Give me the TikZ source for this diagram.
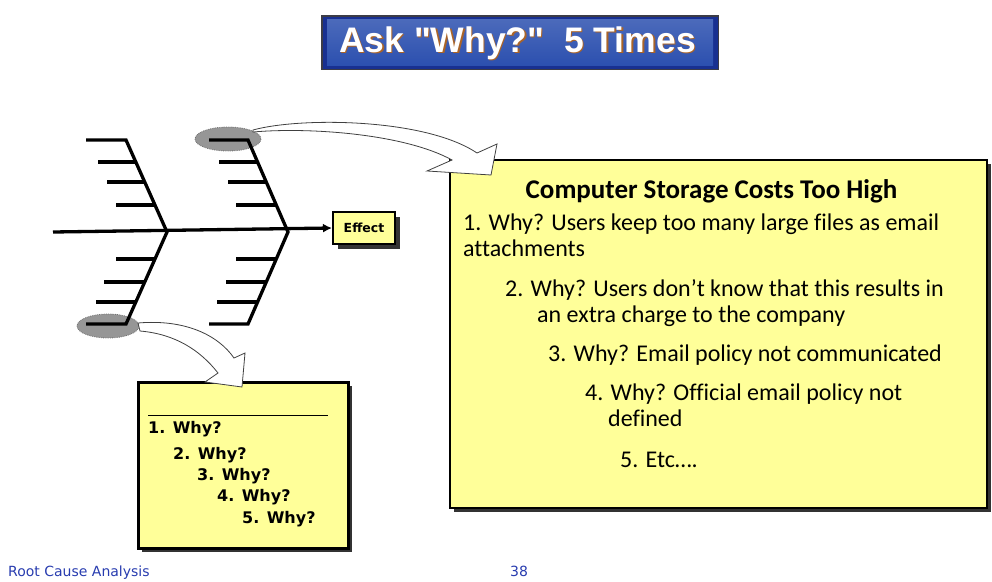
\documentclass[tikz,border=0pt]{standalone}
\usepackage{fontspec}
\setmainfont{Carlito}[Ligatures=NoCommon]
\newfontfamily\tahfont{DejaVu Sans}
\newfontfamily\arifont{Liberation Sans}
\usetikzlibrary{arrows.meta}
\definecolor{noteyellow}{RGB}{255,255,153}
\definecolor{titleframe}{RGB}{24,48,145}
\definecolor{titleinner}{RGB}{44,80,175}
\definecolor{titleedge}{RGB}{60,60,70}
\definecolor{titleshadow}{RGB}{170,100,40}
\definecolor{footblue}{RGB}{40,60,175}
\definecolor{ovalgray}{RGB}{150,150,150}
\begin{document}
\begin{tikzpicture}[x=1pt,y=-1pt,
  bone/.style={line width=3.3pt,black,line join=miter},
  rib/.style={line width=3.3pt,black},
  oval/.style={fill=ovalgray,draw=black!55,densely dotted,line width=0.8pt},
  notebox/.style={fill=noteyellow,draw=black,line width=2.5pt},
  boxshadow/.style={fill=black!80},
  blockarrow/.style={fill=white,draw=black!75,line width=0.8pt,line join=miter},
  bigtext/.style={anchor=base west,inner sep=0pt,font=\fontsize{24}{24}\selectfont},
  smalltext/.style={anchor=base west,inner sep=0pt,font=\tahfont\bfseries\fontsize{16}{16}\selectfont},
  foot/.style={anchor=base west,inner sep=0pt,text=footblue,font=\tahfont\fontsize{14}{14}\selectfont}]
\useasboundingbox (0,0) rectangle (992,581);

% title
\fill[titleedge] (321,15) rectangle (719,70);
\fill[titleframe] (322.5,16.5) rectangle (717.5,68.5);
\shade[top color=titleinner!85!white,bottom color=titleinner] (327,19) rectangle (713,65);
\node[font=\arifont\bfseries\fontsize{35.5}{35.5}\selectfont,text=titleshadow] at (518.8,44.8) {Ask "Why?"\ \ 5 Times};
\node[font=\arifont\bfseries\fontsize{35.5}{35.5}\selectfont,text=white] (title) at (517.5,43.5) {Ask "Why?"\ \ 5 Times};

% ovals behind bones
\draw[oval] (228,139) ellipse [x radius=33,y radius=12];
\draw[oval] (108,326) ellipse [x radius=31,y radius=12];

% effect box
\fill[boxshadow] (338,217) rectangle (400,249);
\node[notebox,line width=2pt,minimum width=62,minimum height=32,inner sep=0pt,
      font=\tahfont\bfseries\fontsize{12.5}{12.5}\selectfont] (effect) at (364,228) {Effect};

% fishbone
\coordinate (tail) at (53,232);
\coordinate (hA) at (167,232);
\coordinate (hB) at (288,232);
\draw[bone,-{Latex[length=9pt,width=9pt]}] (tail) -- (effect.west);
\draw[bone] (86,140) -- (126,140) -- (hA) -- (126,324) -- (86,324);
\draw[bone] (209,140) -- (248,140) -- (hB) -- (248,324) -- (209,324);
\draw[rib] (98,162) -- (135.8,162) (107,182) -- (144.7,182) (116,205) -- (155,205);
\draw[rib] (116,259) -- (155,259) (104,282) -- (144.7,282) (96,302) -- (135.8,302);
\draw[rib] (219,162) -- (257.8,162) (228,182) -- (266.7,182) (236,205) -- (277,205);
\draw[rib] (236,259) -- (277,259) (226,282) -- (266.7,282) (217,302) -- (257.8,302);

% big box
\fill[boxshadow] (454,164) rectangle (991,512);
\node[notebox,minimum width=537,minimum height=348,inner sep=0pt] (bigbox) at (718.5,334) {};
\node[anchor=base,inner sep=0pt,font=\bfseries\fontsize{27}{27}\selectfont] (btitle) at (711.5,198) {Computer Storage Costs Too High};
\node[bigtext] (l1) at (463,230) {1. Why? Users keep too many large files as email};
\node[bigtext] (l1b) at (463,256) {attachments};
\node[bigtext] (l2) at (505,296) {2. Why? Users don’t know that this results in};
\node[bigtext] (l2b) at (537,322) {an extra charge to the company};
\node[bigtext] (l3) at (548,361) {3. Why? Email policy not communicated};
\node[bigtext] (l4) at (585,400) {4. Why? Official email policy not};
\node[bigtext] (l4b) at (608,426) {defined};
\node[bigtext] (l5) at (620,467) {5. Etc….};

% small box
\fill[boxshadow] (142,386) rectangle (352,552);
\node[notebox,line width=3pt,minimum width=210,minimum height=166,inner sep=0pt] (smallbox) at (243,465) {};
\draw[black,line width=0.8pt] (148,415) -- (328,415);
\node[smalltext] (w1) at (148,433) {1. Why?};
\node[smalltext] (w2) at (173,459) {2. Why?};
\node[smalltext] (w3) at (197,480) {3. Why?};
\node[smalltext] (w4) at (217,501) {4. Why?};
\node[smalltext] (w5) at (242,523) {5. Why?};

% curved block arrows
\filldraw[blockarrow] (253,130) .. controls (300,117) and (425,118) .. (477,153)
  -- (497,144) -- (491,175) -- (427,171) -- (452,160)
  .. controls (405,134) and (310,127) .. (253,132) -- cycle;
\filldraw[blockarrow] (138,323) .. controls (185,319) and (218,335) .. (234,358)
  -- (245,353) -- (242,387) -- (205,382) -- (218,373)
  .. controls (200,350) and (175,334) .. (140,331) -- cycle;

% footer
\node[foot] (f1) at (8,576.5) {Root Cause Analysis};
\node[foot] (f2) at (510,576.5) {38};
\end{tikzpicture}
\end{document}
